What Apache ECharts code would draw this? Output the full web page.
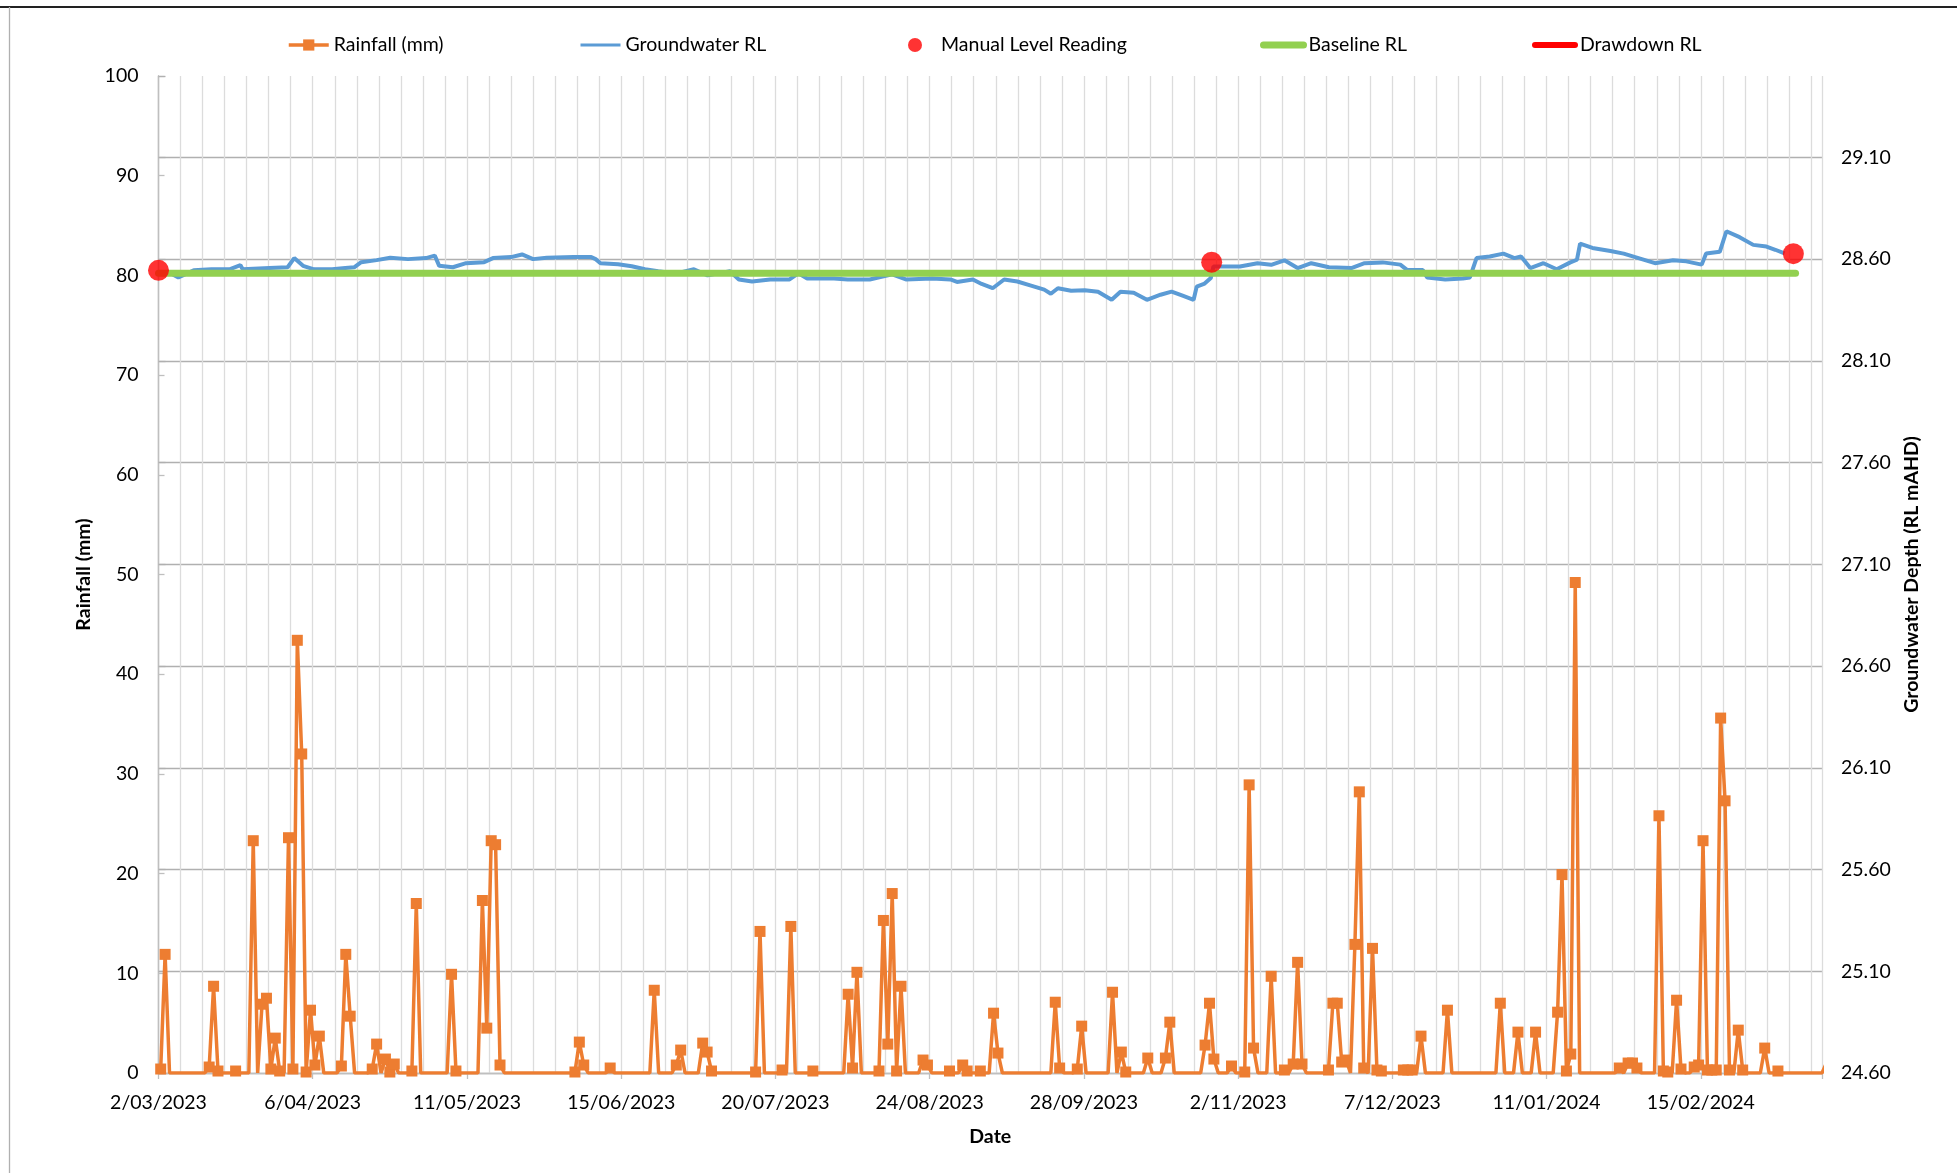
<!DOCTYPE html>
<html><head><meta charset="utf-8">
<script src="https://cdn.jsdelivr.net/npm/echarts@6/dist/echarts.min.js"></script>
<style>html,body{margin:0;padding:0;background:#fff}#c{width:1957px;height:1173px}</style>
</head><body><div id="c"></div>
<script>
// ---- data ----
const START_DATE = [2023, 3, 2];          // x = days since this date
const AXIS_MAX_DAY = 377.5;
const DATE_TICK_DAYS = 35;
const GRID_DAYS = 5;

const rainDays = [0,1,11,12,13,17,21,23,24,25,26,27,29,30,31,32,33,34,35,36,41,42,43,48,49,51,52,53,57,58,66,67,73,74,75,76,77,94,95,96,102,112,117,118,123,124,125,135,136,141,143,148,156,157,158,163,164,165,166,167,168,173,174,179,182,183,186,189,190,203,204,208,209,216,218,219,224,228,229,237,238,239,243,246,247,248,252,255,257,258,259,265,266,267,268,269,271,272,273,275,276,277,282,283,284,286,292,304,308,312,317,318,319,320,321,331,333,334,335,340,341,342,344,345,348,349,350,351,352,353,354,355,356,358,359,364,367,378];
const rainValues = [0.4,11.9,0.6,8.7,0.2,0.2,23.3,6.9,7.5,0.4,3.5,0.2,23.6,0.4,43.4,32.0,0.1,6.3,0.8,3.7,0.7,11.9,5.7,0.4,2.9,1.4,0.1,0.9,0.2,17.0,9.9,0.2,17.3,4.5,23.3,22.9,0.8,0.1,3.1,0.8,0.5,8.3,0.8,2.3,3.0,2.1,0.2,0.1,14.2,0.3,14.7,0.2,7.9,0.5,10.1,0.2,15.3,2.9,18.0,0.2,8.7,1.3,0.8,0.2,0.8,0.2,0.2,6.0,2.0,7.1,0.5,0.4,4.7,8.1,2.1,0.1,1.5,1.5,5.1,2.8,7.0,1.4,0.7,0.1,28.9,2.5,9.7,0.3,0.9,11.1,0.9,0.3,7.0,7.0,1.1,1.3,12.9,28.2,0.5,12.5,0.3,0.2,0.3,0.3,0.3,3.7,6.3,7.0,4.1,4.1,6.1,19.9,0.2,1.9,49.2,0.5,1.0,1.0,0.5,25.8,0.2,0.1,7.3,0.4,0.6,0.8,23.3,0.3,0.3,0.3,35.6,27.3,0.3,4.3,0.3,2.5,0.2,1.0];

const gwDays = [1.9,4.5,8.0,12.0,16.1,18.6,19.1,25.2,29.3,30.8,32.8,35.3,39.4,42.4,44.4,46.0,49.5,52.6,56.6,60.7,62.7,63.7,66.8,69.8,73.9,75.9,80.0,82.5,85.0,88.1,94.2,98.2,99.2,100.3,104.3,107.4,110.4,113.4,117.5,121.5,124.6,129.7,131.7,134.7,138.8,143.2,145.2,147.2,153.3,156.4,161.4,166.5,169.6,175.6,179.7,181.2,184.8,186.8,189.3,191.9,194.9,198.0,201.0,202.5,204.1,207.1,210.2,213.2,216.3,218.3,221.3,224.3,227.4,229.9,232.4,234.9,235.6,237.4,238.8,239.4,241.3,245.4,249.4,252.5,255.5,258.5,261.6,265.6,270.7,273.7,277.8,281.8,283.4,286.9,287.9,292.0,296.0,297.6,299.1,302.1,305.2,307.7,309.2,311.3,314.3,317.3,320.4,321.9,322.6,325.4,329.5,332.5,336.6,339.6,343.7,346.7,350.2,351.2,354.3,355.8,358.8,361.9,364.9,366.9,369.0];
const gwValues = [28.54,28.51,28.545,28.55,28.55,28.57,28.55,28.556,28.56,28.605,28.567,28.55,28.55,28.556,28.56,28.585,28.595,28.607,28.60,28.605,28.617,28.567,28.56,28.58,28.585,28.605,28.61,28.623,28.60,28.607,28.61,28.61,28.60,28.58,28.575,28.565,28.55,28.54,28.53,28.55,28.52,28.54,28.50,28.49,28.50,28.50,28.53,28.505,28.505,28.50,28.50,28.525,28.50,28.505,28.50,28.488,28.50,28.478,28.457,28.50,28.49,28.47,28.45,28.43,28.457,28.445,28.447,28.44,28.40,28.44,28.435,28.40,28.425,28.44,28.42,28.40,28.465,28.48,28.507,28.564,28.564,28.564,28.58,28.572,28.594,28.556,28.58,28.56,28.556,28.58,28.584,28.573,28.546,28.546,28.51,28.50,28.505,28.51,28.605,28.613,28.627,28.605,28.613,28.556,28.58,28.55,28.584,28.597,28.676,28.655,28.64,28.627,28.60,28.58,28.594,28.589,28.573,28.628,28.636,28.737,28.708,28.67,28.662,28.646,28.628];

const manualDays = [0, 239, 371];
const manualValues = [28.545, 28.585, 28.627];

const baselineDays = [0, 371.5];
const baselineValue = 28.53;

const rainAxis = {min: 0, max: 100, step: 10};
const rlAxis = {min: 24.6, max: 29.5, step: 0.5, lastLabel: 29.1};

const seriesNames = ['Rainfall (mm)', 'Groundwater RL', 'Manual Level Reading', 'Baseline RL', 'Drawdown RL'];
const colors = {rain: '#ED7D31', gw: '#5B9BD5', manual: '#FF0000', base: '#92D050', draw: '#FF0000'};

// ---- helpers ----
function dayToLabel(d) {
  const t = Date.UTC(START_DATE[0], START_DATE[1] - 1, START_DATE[2]) + d * 86400000;
  const dt = new Date(t);
  return dt.getUTCDate() + '/' + String(dt.getUTCMonth() + 1).padStart(2, '0') + '/' + dt.getUTCFullYear();
}
// daily rainfall: empty days drawn as zero without a marker, values centred in the day
const rainMap = {};
rainDays.forEach((d, i) => { rainMap[d] = rainValues[i]; });
const lastRainDay = Math.max(...rainDays);
const rainData = [];
for (let d = 0; d <= lastRainDay; d++) {
  if (d in rainMap) rainData.push({value: [d + 0.5, rainMap[d]]});
  else rainData.push({value: [d + 0.5, 0], symbol: 'none'});
}
const gwData = gwDays.map((d, i) => [d, gwValues[i]]);
const manualData = manualDays.map((d, i) => [d, manualValues[i]]);
const baselineData = baselineDays.map(d => [d, baselineValue]);

const F = 'Lato, "Open Sans", sans-serif';
const FS = 19.5;
const AX = '#bfbfbf';

function legendAt(name, left, extra) {
  return Object.assign({
    data: [name], left: left, top: 35, orient: 'horizontal', padding: 0,
    itemWidth: 40, itemHeight: 14, selectedMode: false,
    textStyle: {fontFamily: F, fontSize: FS, color: '#000'}
  }, extra || {});
}

const chart = echarts.init(document.getElementById('c'), null, {renderer: 'canvas'});
chart.setOption({
  animation: false,
  backgroundColor: '#fff',
  textStyle: {fontFamily: F},
  graphic: [
    {type: 'line', shape: {x1: 0, y1: 7, x2: 1957, y2: 7}, style: {stroke: '#222', lineWidth: 2}, silent: true},
    {type: 'line', shape: {x1: 9.5, y1: 7, x2: 9.5, y2: 1173}, style: {stroke: '#b0b0b0', lineWidth: 1.3}, silent: true}
  ],
  legend: [
    legendAt(seriesNames[0], 287, {lineStyle: {width: 3.5}}),
    legendAt(seriesNames[1], 579, {lineStyle: {width: 3}, itemStyle: {opacity: 0}}),
    legendAt(seriesNames[2], 908, {itemWidth: 42, itemHeight: 14}),
    legendAt(seriesNames[3], 1260, {lineStyle: {width: 7, cap: 'round'}, itemStyle: {opacity: 0}}),
    legendAt(seriesNames[4], 1532, {lineStyle: {width: 6, cap: 'round'}, itemStyle: {opacity: 0}})
  ],
  grid: {left: 158.5, right: 135, top: 76, bottom: 100, containLabel: false, outerBoundsMode: 'none'},
  xAxis: [{
    type: 'value', min: 0, max: AXIS_MAX_DAY, interval: DATE_TICK_DAYS,
    axisLine: {lineStyle: {color: AX, width: 1.3}},
    axisTick: {show: true, length: 6, lineStyle: {color: AX, width: 1.3}},
    axisLabel: {formatter: v => (v % DATE_TICK_DAYS === 0 ? dayToLabel(v) : ''), fontFamily: F, fontSize: FS, color: '#000', margin: 20},
    splitLine: {show: false},
    name: 'Date', nameLocation: 'middle', nameGap: 54,
    nameTextStyle: {fontFamily: F, fontSize: FS, fontWeight: 'bold', color: '#000'}
  }, {
    type: 'value', min: 0, max: AXIS_MAX_DAY, interval: GRID_DAYS,
    axisLine: {show: false}, axisTick: {show: false}, axisLabel: {show: false},
    splitLine: {show: true, lineStyle: {color: '#dcdcdc', width: 1.3}}
  }],
  yAxis: [{
    type: 'value', min: rainAxis.min, max: rainAxis.max, interval: rainAxis.step, position: 'left',
    axisLine: {show: true, lineStyle: {color: AX, width: 1.3}},
    axisTick: {show: true, inside: true, length: 6, lineStyle: {color: AX, width: 1.3}},
    axisLabel: {fontFamily: F, fontSize: FS, color: '#000', margin: 20},
    splitLine: {show: false},
    name: 'Rainfall (mm)', nameLocation: 'middle', nameGap: 63, nameRotate: 90,
    nameTextStyle: {fontFamily: F, fontSize: FS, fontWeight: 'bold', color: '#000'}
  }, {
    type: 'value', min: rlAxis.min, max: rlAxis.max, interval: rlAxis.step, position: 'right',
    axisLine: {show: true, lineStyle: {color: AX, width: 1.3}},
    axisTick: {show: true, length: 7, lineStyle: {color: '#b0b0b0', width: 1.3}},
    axisLabel: {formatter: v => (v > rlAxis.lastLabel + 0.01 ? '' : v.toFixed(2)), fontFamily: F, fontSize: FS, color: '#000', margin: 19},
    splitLine: {show: true, showMaxLine: false, lineStyle: {color: '#b0b0b0', width: 1.3}},
    name: 'Groundwater Depth (RL mAHD)', nameLocation: 'middle', nameGap: 80, nameRotate: 90,
    nameTextStyle: {fontFamily: F, fontSize: FS, fontWeight: 'bold', color: '#000'}
  }],
  series: [{
    name: seriesNames[0], type: 'line', xAxisIndex: 0, yAxisIndex: 0,
    data: rainData, symbol: 'rect', symbolSize: 11, showAllSymbol: true,
    color: colors.rain, lineStyle: {width: 3.5, color: colors.rain}, itemStyle: {color: colors.rain},
    z: 3
  }, {
    name: seriesNames[1], type: 'line', xAxisIndex: 0, yAxisIndex: 1,
    data: gwData, symbol: 'none', color: colors.gw, lineStyle: {width: 4, color: colors.gw}, z: 4
  }, {
    name: seriesNames[3], type: 'line', xAxisIndex: 0, yAxisIndex: 1,
    data: baselineData, symbol: 'none', color: colors.base, lineStyle: {width: 7, color: colors.base, cap: 'round'}, z: 5
  }, {
    name: seriesNames[4], type: 'line', xAxisIndex: 0, yAxisIndex: 1,
    data: [], symbol: 'none', color: colors.draw, lineStyle: {width: 6, color: colors.draw}, z: 5
  }, {
    name: seriesNames[2], type: 'scatter', xAxisIndex: 0, yAxisIndex: 1,
    data: manualData, symbol: 'circle', symbolSize: 21, color: colors.manual, itemStyle: {color: colors.manual}, z: 6
  }]
});
</script>
</body></html>
